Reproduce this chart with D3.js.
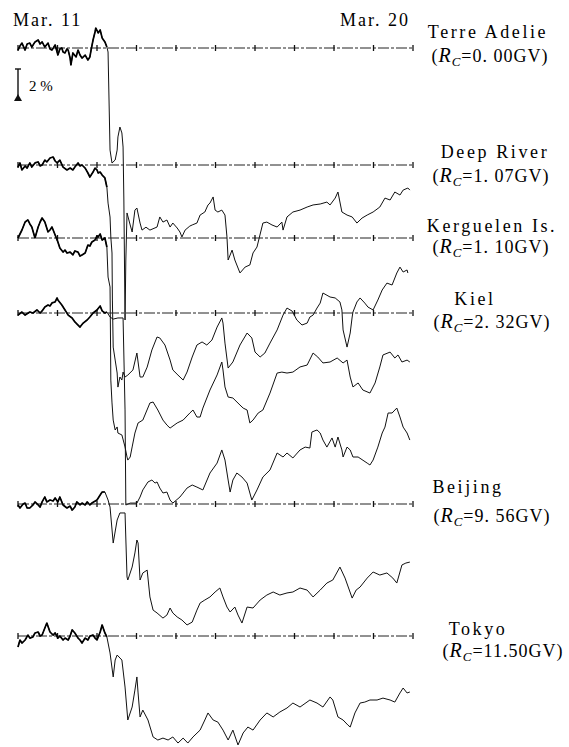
<!DOCTYPE html>
<html>
<head>
<meta charset="utf-8">
<script src="https://cdn.jsdelivr.net/npm/d3@7"></script>
<style>
  body { margin: 0; background: #fff; }
</style>
</head>
<body>
<svg width="569" height="747"></svg>
<script>
// stations and cut-off rigidities
var stations = ["Terre Adelie", "Deep River", "Kerguelen Is.", "Kiel", "Beijing", "Tokyo"];
var cutoffs  = ["0. 00", "1. 07", "1. 10", "2. 32", "9. 56", "11.50"];
var dateLabels = ["Mar. 11", "Mar. 20"];
var dayTicks = [0, 1, 2, 3, 4, 5, 6, 7, 8, 9, 10];   // days after Mar. 11 00 UT

// [day, % deviation from baseline]
var terreAdelie = [[0,-0.13],[0.05,0.13],[0.10,0.31],[0.18,-0.13],[0.23,0.25],[0.30,0.31],[0.35,0.06],[0.43,0.38],[0.51,0.50],[0.56,0.25],[0.61,0.38],[0.68,0.06],[0.76,0.31],[0.81,-0.06],[0.86,-0.13],[0.94,0.19],[0.99,-0.25],[1.01,-0.44],[1.06,-0.06],[1.11,0],[1.14,-0.25],[1.19,-0.31],[1.24,-0.06],[1.27,-0.13],[1.32,-0.63],[1.34,-1.06],[1.39,-0.31],[1.47,-0.56],[1.52,-0.13],[1.57,-0.44],[1.62,-0.63],[1.70,-0.44],[1.77,-0.75],[1.82,-0.56],[1.85,-0.13],[1.90,0.50],[1.95,1.00],[1.97,1.25],[2.03,0.94],[2.08,1.13],[2.13,0.63],[2.20,0.38],[2.25,0.06],[2.28,-0.25],[2.33,-6.38],[2.38,-7.19],[2.46,-7.00],[2.51,-6.38],[2.53,-5.56],[2.58,-4.94],[2.63,-5.31],[2.66,-6.19],[2.68,-9.50],[2.71,-17.00],[2.73,-13.25],[2.76,-10.31],[2.84,-11.06],[2.89,-11.50],[2.96,-10.13],[3.01,-10.00],[3.09,-10.94],[3.14,-11.38],[3.24,-11.20],[3.34,-11.38],[3.52,-11.19],[3.59,-10.56],[3.67,-10.88],[3.77,-10.75],[3.85,-11.19],[3.92,-10.94],[4.03,-11.25],[4.10,-11.50],[4.15,-11.81],[4.23,-11.38],[4.35,-11.13],[4.41,-11.06],[4.53,-10.94],[4.61,-10.44],[4.73,-10.25],[4.81,-9.81],[4.86,-9.69],[4.94,-9.31],[4.99,-10.13],[5.06,-10.25],[5.16,-10.13],[5.24,-10.44],[5.29,-11.81],[5.32,-13.25],[5.42,-12.63],[5.49,-13.25],[5.62,-14.06],[5.75,-13.69],[5.87,-13.56],[5.95,-12.81],[6.05,-12.44],[6.20,-10.94],[6.30,-10.88],[6.43,-11.06],[6.56,-11.19],[6.68,-10.88],[6.71,-11.38],[6.81,-10.56],[6.96,-10.25],[7.14,-10.13],[7.32,-9.94],[7.47,-9.81],[7.65,-9.75],[7.82,-9.63],[7.90,-9.81],[8.03,-9.38],[8.10,-9.00],[8.20,-10.25],[8.33,-10.44],[8.46,-10.56],[8.58,-10.94],[8.71,-10.63],[8.84,-10.44],[8.99,-10.25],[9.16,-9.94],[9.29,-9.38],[9.42,-9.50],[9.54,-9.00],[9.67,-9.19],[9.75,-8.88],[9.87,-8.75],[9.92,-8.88]];

var deepRiver = [[0,-0.13],[0.05,0.13],[0.10,-0.31],[0.18,-0.06],[0.23,-0.19],[0.30,0.13],[0.35,-0.13],[0.43,0.13],[0.51,0.19],[0.56,-0.06],[0.61,0],[0.68,0.31],[0.73,0.19],[0.81,0.44],[0.89,0.50],[0.94,0.25],[0.99,0.13],[1.06,0.31],[1.14,-0.13],[1.24,-0.31],[1.32,-0.19],[1.39,-0.31],[1.44,-0.13],[1.52,0.13],[1.57,-0.06],[1.62,0],[1.70,-0.19],[1.77,-0.50],[1.82,-0.75],[1.90,-0.44],[1.95,-0.19],[2.00,-0.31],[2.03,-0.50],[2.08,-0.44],[2.13,-0.63],[2.20,-0.81],[2.25,-1.38],[2.28,-2.38],[2.33,-3.25],[2.35,-4.50],[2.38,-5.50],[2.39,-8.44],[2.41,-11.38],[2.46,-12.19],[2.51,-13.00],[2.53,-13.88],[2.58,-13.25],[2.63,-13.44],[2.66,-12.94],[2.71,-13.25],[2.78,-13.13],[2.91,-12.81],[3.01,-11.75],[3.09,-13.25],[3.16,-13.25],[3.27,-12.63],[3.39,-11.56],[3.52,-10.75],[3.59,-10.81],[3.72,-11.25],[3.85,-12.19],[3.92,-12.81],[4.05,-13.13],[4.18,-13.44],[4.28,-12.94],[4.41,-12.00],[4.53,-11.25],[4.66,-11.06],[4.78,-11.25],[4.91,-10.94],[5.04,-10.13],[5.16,-9.56],[5.19,-9.88],[5.24,-11.13],[5.32,-12.69],[5.44,-12.31],[5.62,-11.25],[5.80,-10.50],[5.92,-10.81],[6.00,-11.69],[6.13,-12.00],[6.25,-11.75],[6.38,-11.13],[6.56,-10.31],[6.71,-9.38],[6.81,-8.94],[6.94,-9.13],[7.06,-9.69],[7.19,-10.00],[7.32,-9.88],[7.39,-9.50],[7.47,-9.38],[7.57,-8.94],[7.65,-8.63],[7.72,-8.00],[7.90,-8.25],[8.03,-8.31],[8.15,-8.56],[8.20,-9.06],[8.23,-10.31],[8.33,-11.38],[8.41,-10.50],[8.46,-9.50],[8.48,-9.19],[8.58,-8.56],[8.66,-8.31],[8.78,-8.63],[8.86,-8.88],[8.99,-9.06],[9.11,-8.44],[9.22,-7.81],[9.34,-7.38],[9.47,-7.50],[9.59,-6.75],[9.67,-6.38],[9.75,-6.69],[9.85,-6.56],[9.87,-6.75]];

var kerguelen = [[0,0],[0.10,0.50],[0.18,1.00],[0.25,1.13],[0.30,0.88],[0.35,0.69],[0.43,0],[0.51,0.69],[0.56,1.00],[0.61,1.25],[0.68,1.00],[0.76,0.38],[0.81,0.50],[0.86,0.69],[0.94,0.19],[1.01,-0.25],[1.06,-0.63],[1.14,-0.88],[1.19,-0.75],[1.24,-0.94],[1.32,-0.88],[1.39,-1.06],[1.44,-0.81],[1.52,-0.88],[1.57,-1.13],[1.62,-1.06],[1.70,-0.94],[1.77,-0.44],[1.82,-0.50],[1.87,-0.25],[1.95,-0.13],[2.00,0.13],[2.03,0.06],[2.08,0.25],[2.13,-0.13],[2.20,0],[2.25,-0.56],[2.28,-2.44],[2.33,-3.06],[2.34,-5.75],[2.35,-8.88],[2.38,-10.31],[2.41,-11.38],[2.46,-12.00],[2.51,-11.81],[2.53,-12.19],[2.63,-12.31],[2.71,-13.06],[2.76,-13.69],[2.78,-13.88],[2.84,-13.69],[2.89,-13.06],[2.96,-12.19],[3.04,-11.56],[3.16,-11.38],[3.34,-10.31],[3.42,-10.25],[3.54,-10.75],[3.67,-11.38],[3.77,-11.69],[3.85,-11.88],[4.03,-11.56],[4.18,-11.38],[4.35,-10.94],[4.43,-10.75],[4.53,-11.19],[4.61,-11.19],[4.68,-10.63],[4.86,-9.50],[5.04,-8.56],[5.16,-7.75],[5.19,-8.25],[5.24,-9.31],[5.32,-9.94],[5.44,-10.00],[5.62,-10.44],[5.70,-10.63],[5.80,-10.75],[5.87,-11.56],[5.95,-11.38],[6.08,-10.94],[6.20,-10.75],[6.38,-9.69],[6.56,-8.44],[6.68,-8.38],[6.81,-8.44],[6.96,-8.38],[7.14,-8.06],[7.32,-7.94],[7.47,-7.19],[7.59,-7.44],[7.72,-7.81],[7.90,-7.75],[8.08,-7.50],[8.23,-7.81],[8.33,-7.63],[8.41,-8.69],[8.48,-9.31],[8.61,-9.06],[8.73,-9.50],[8.91,-9.69],[9.04,-9.06],[9.16,-8.06],[9.24,-7.31],[9.42,-7.13],[9.54,-7.50],[9.62,-7.31],[9.72,-7.75],[9.85,-7.63],[9.92,-7.75]];

var kiel = [[0,-0.13],[0.10,0.06],[0.18,-0.13],[0.30,0.06],[0.38,0],[0.48,0.19],[0.56,0],[0.61,0.13],[0.68,0.38],[0.76,0.50],[0.81,0.44],[0.86,0.63],[0.94,0.69],[0.99,0.94],[1.01,0.81],[1.11,0.50],[1.19,0.19],[1.27,-0.13],[1.37,-0.31],[1.44,-0.56],[1.57,-0.88],[1.65,-0.63],[1.75,-0.44],[1.82,-0.25],[1.90,0],[2.00,0.19],[2.08,0.44],[2.13,0.13],[2.20,0],[2.25,0.06],[2.33,-0.25],[2.41,-0.38],[2.53,-0.31],[2.66,-0.31],[2.71,-6.06],[2.73,-12.00],[2.84,-11.88],[2.91,-11.88],[3.01,-11.88],[3.09,-11.50],[3.16,-11.06],[3.29,-10.56],[3.39,-10.44],[3.47,-10.63],[3.52,-10.56],[3.59,-10.94],[3.67,-11.25],[3.77,-11.19],[3.85,-11.69],[3.92,-11.88],[4.10,-11.50],[4.28,-10.94],[4.41,-10.75],[4.53,-10.88],[4.68,-11.06],[4.86,-10.00],[5.04,-9.38],[5.16,-8.56],[5.24,-9.19],[5.32,-10.44],[5.37,-11.19],[5.44,-10.44],[5.54,-10.00],[5.67,-10.25],[5.80,-10.63],[5.87,-11.25],[5.92,-11.69],[6.05,-11.06],[6.20,-10.25],[6.38,-9.81],[6.56,-8.75],[6.71,-9.00],[6.81,-8.75],[6.96,-9.06],[7.14,-8.56],[7.27,-8.38],[7.39,-8.44],[7.44,-7.44],[7.57,-7.31],[7.65,-7.50],[7.72,-7.94],[7.82,-8.38],[7.95,-7.81],[8.03,-8.38],[8.10,-7.75],[8.20,-8.56],[8.23,-9.00],[8.33,-8.38],[8.41,-8.56],[8.48,-9.00],[8.61,-9.00],[8.84,-9.38],[8.91,-9.50],[8.99,-9.19],[9.11,-8.38],[9.22,-7.50],[9.29,-7.13],[9.37,-6.25],[9.47,-6.25],[9.59,-5.94],[9.67,-6.50],[9.75,-7.13],[9.85,-7.50],[9.92,-7.94]];

var beijing = [[0,-0.06],[0.05,-0.25],[0.13,0],[0.18,0.06],[0.23,-0.25],[0.30,-0.25],[0.38,-0.06],[0.43,0.13],[0.51,-0.06],[0.56,-0.19],[0.61,0.13],[0.68,0.44],[0.73,0.13],[0.81,0.25],[0.89,0.19],[0.94,0.38],[1.01,0.13],[1.06,0.44],[1.14,-0.06],[1.24,-0.25],[1.32,-0.13],[1.37,-0.38],[1.44,-0.19],[1.49,0.13],[1.57,-0.06],[1.62,0.06],[1.70,-0.06],[1.75,0.13],[1.82,-0.06],[1.87,0.06],[2.00,0.25],[2.08,0.56],[2.13,0.75],[2.20,0.75],[2.28,0.25],[2.33,-0.19],[2.41,-2.44],[2.51,-1.00],[2.58,-0.56],[2.71,-0.56],[2.76,-4.56],[2.78,-4.75],[2.89,-3.94],[2.96,-3.06],[3.01,-2.25],[3.04,-2.44],[3.09,-4.75],[3.16,-4.31],[3.27,-4.13],[3.34,-5.81],[3.42,-6.63],[3.52,-6.81],[3.67,-7.13],[3.77,-6.94],[3.85,-6.50],[3.92,-6.81],[4.03,-7.06],[4.15,-7.25],[4.28,-7.56],[4.41,-7.38],[4.53,-6.63],[4.61,-6.19],[4.73,-6.00],[4.86,-5.81],[4.99,-5.50],[5.11,-5.25],[5.19,-5.81],[5.29,-6.44],[5.37,-6.75],[5.49,-6.44],[5.57,-6.94],[5.67,-7.44],[5.80,-6.44],[5.95,-6.50],[6.13,-6.00],[6.30,-5.69],[6.46,-5.50],[6.63,-5.69],[6.81,-5.56],[6.96,-5.50],[7.14,-5.25],[7.32,-5.38],[7.47,-5.81],[7.65,-5.38],[7.82,-4.94],[7.97,-4.75],[8.15,-3.94],[8.28,-4.63],[8.46,-5.88],[8.56,-5.38],[8.66,-5.19],[8.84,-4.63],[8.99,-4.25],[9.16,-4.44],[9.34,-4.31],[9.49,-4.63],[9.59,-4.94],[9.72,-3.81],[9.82,-3.69],[9.92,-3.63]];

var tokyo = [[0,-0.69],[0.05,-0.25],[0.10,-0.44],[0.18,-0.25],[0.25,0.06],[0.30,-0.13],[0.38,-0.06],[0.43,0.19],[0.51,0.25],[0.56,0],[0.61,0.06],[0.68,0.50],[0.73,0.81],[0.81,0.25],[0.89,0.06],[0.94,0.19],[1.01,-0.13],[1.06,0],[1.14,-0.25],[1.19,-0.13],[1.27,-0.25],[1.32,0],[1.37,0.38],[1.44,0.19],[1.52,-0.13],[1.57,-0.25],[1.62,-0.44],[1.70,-0.13],[1.77,-0.25],[1.82,0],[1.90,0.06],[1.95,-0.13],[2.00,-0.25],[2.08,0.25],[2.13,0.69],[2.20,0.19],[2.25,-0.06],[2.33,-1.06],[2.41,-2.56],[2.46,-1.50],[2.51,-1.19],[2.63,-1.50],[2.71,-3.19],[2.78,-5.25],[2.89,-4.44],[2.96,-3.38],[3.01,-2.56],[3.04,-3.56],[3.09,-5.06],[3.16,-4.63],[3.29,-5.25],[3.42,-6.31],[3.54,-6.50],[3.67,-6.38],[3.80,-6.50],[3.92,-6.31],[4.05,-6.69],[4.18,-6.38],[4.30,-6.69],[4.43,-6.31],[4.61,-5.88],[4.73,-5.25],[4.81,-4.81],[4.94,-5.25],[5.06,-5.38],[5.19,-5.88],[5.32,-6.50],[5.44,-5.88],[5.57,-6.81],[5.70,-6.06],[5.82,-5.69],[5.95,-5.88],[6.13,-5.25],[6.30,-4.81],[6.46,-5.06],[6.63,-4.75],[6.81,-4.50],[6.96,-4.19],[7.14,-4.44],[7.39,-4.00],[7.57,-4.19],[7.72,-4.44],[7.90,-3.81],[7.97,-4.00],[8.10,-5.06],[8.23,-5.25],[8.35,-5.56],[8.41,-5.69],[8.53,-4.81],[8.66,-4.19],[8.78,-4.13],[8.91,-4.00],[9.09,-4.00],[9.24,-3.88],[9.42,-4.00],[9.54,-4.13],[9.67,-3.56],[9.75,-3.25],[9.85,-3.56],[9.92,-3.50]];

var series = [terreAdelie, deepRiver, kerguelen, kiel, beijing, tokyo];

// layout
var baseY = [48, 165, 238, 313, 504, 636];
var nameAt = [[488, 38], [495, 158], [492, 232], [475, 305], [468, 493], [478, 635]];
var rcAt   = [[490, 62], [491, 182], [491, 253], [492, 328], [492, 522], [503, 657]];
var pxPerPct = 16;
var serif = "'Liberation Serif', 'Times New Roman', 'DejaVu Serif', serif";

var svg = d3.select("svg");

var x = d3.scaleLinear().domain([0, 10]).range([18, 413]);

series.forEach(function(data, i) {
  var y = d3.scaleLinear().domain([0, 1]).range([baseY[i], baseY[i] - pxPerPct]);
  var line = d3.line().x(function(d){ return x(d[0]) }).y(function(d){ return y(d[1]) });

  // baseline with daily ticks
  svg.append("line")
    .attr("x1", x(0)).attr("x2", x(10))
    .attr("y1", baseY[i]).attr("y2", baseY[i])
    .attr("stroke", "#222").attr("stroke-width", 1)
    .attr("stroke-dasharray", "11 2 3 2");
  svg.selectAll(null)
    .data(dayTicks).enter()
    .append("line")
      .attr("x1", function(d){ return x(d) }).attr("x2", function(d){ return x(d) })
      .attr("y1", baseY[i] - 3).attr("y2", baseY[i] + 3)
      .attr("stroke", "#111").attr("stroke-width", 1.3);

  svg.append("path")
    .datum(data)
    .attr("fill", "none")
    .attr("stroke", "#111")
    .attr("stroke-width", 1)
    .attr("stroke-linejoin", "round")
    .attr("d", line);

  // the quiet days before the event are inked heavier
  svg.append("path")
    .datum(data.filter(function(d){ return d[0] <= 2.25 }))
    .attr("fill", "none")
    .attr("stroke", "#000")
    .attr("stroke-width", 1.7)
    .attr("stroke-linejoin", "round")
    .attr("d", line);

  // station label
  svg.append("text")
    .attr("x", nameAt[i][0]).attr("y", nameAt[i][1])
    .attr("text-anchor", "middle")
    .attr("font-family", serif)
    .style("font-size", "18px").style("letter-spacing", "2.6px")
    .text(stations[i]);

  var t = svg.append("text")
    .attr("x", rcAt[i][0]).attr("y", rcAt[i][1])
    .attr("text-anchor", "middle")
    .attr("font-family", serif)
    .style("font-size", "18px").style("letter-spacing", "1px");
  t.append("tspan").text("(");
  t.append("tspan").style("font-style", "italic").style("font-size", "20px").text("R");
  t.append("tspan").style("font-style", "italic").style("font-size", "13px").attr("dy", 4).text("C");
  t.append("tspan").attr("dy", -4).text("=" + cutoffs[i] + "GV)");
});

// date labels
svg.append("text").attr("x", 13).attr("y", 26)
  .attr("font-family", serif)
  .style("font-size", "18px").style("letter-spacing", "2px")
  .text(dateLabels[0]);
svg.append("text").attr("x", 410).attr("y", 26)
  .attr("text-anchor", "end")
  .attr("font-family", serif)
  .style("font-size", "18px").style("letter-spacing", "2px")
  .text(dateLabels[1]);

// 2 % scale bar
var bar = d3.scaleLinear().domain([0, 2]).range([101, 101 - 2 * pxPerPct]);
svg.append("line").attr("x1", 18).attr("x2", 18).attr("y1", bar(0)).attr("y2", bar(2))
  .attr("stroke", "#111").attr("stroke-width", 1.4);
svg.append("line").attr("x1", 15).attr("x2", 21).attr("y1", bar(2)).attr("y2", bar(2))
  .attr("stroke", "#111").attr("stroke-width", 1.4);
svg.append("path")
  .attr("d", "M14," + bar(0) + "L22," + bar(0) + "L18," + (bar(0) - 7) + "Z")
  .attr("fill", "#111");
svg.append("text").attr("x", 29).attr("y", 91)
  .attr("font-family", serif)
  .style("font-size", "15px")
  .text("2 %");
</script>
</body>
</html>
